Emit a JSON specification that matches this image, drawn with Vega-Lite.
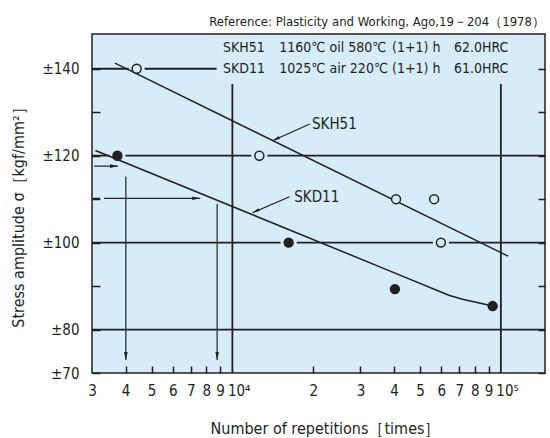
{
  "$schema": "https://vega.github.io/schema/vega-lite/v6.json",
  "width": 453,
  "height": 339,
  "autosize": {"type": "none"},
  "padding": {"left": 92, "top": 34, "right": 5, "bottom": 65},
  "background": "white",
  "title": {
    "text": "Reference: Plasticity and Working, Ago,19－204（1978）",
    "anchor": "end",
    "frame": "group",
    "fontSize": 13,
    "fontWeight": "normal",
    "color": "#231f20",
    "baseline": "alphabetic",
    "offset": 9,
    "dy": 14
  },
  "config": {
    "font": "Liberation Sans Narrow, DejaVu Sans Condensed, sans-serif",
    "view": {"fill": "#d7ecf9", "stroke": "#231f20", "strokeWidth": 1.5},
    "axis": {
      "domain": false,
      "grid": false,
      "tickColor": "#231f20",
      "tickWidth": 1.5,
      "labelColor": "#231f20",
      "titleColor": "#231f20",
      "labelFontSize": 15,
      "titleFontSize": 16,
      "titleFontWeight": "normal"
    }
  },
  "datasets": {
    "pts": [
      {"steel": "SKH51", "n": 4400, "s": 140},
      {"steel": "SKH51", "n": 12600, "s": 120},
      {"steel": "SKH51", "n": 40700, "s": 110},
      {"steel": "SKH51", "n": 56400, "s": 110},
      {"steel": "SKH51", "n": 59800, "s": 100},
      {"steel": "SKD11", "n": 3730, "s": 120},
      {"steel": "SKD11", "n": 16200, "s": 100},
      {"steel": "SKD11", "n": 40300, "s": 89.3},
      {"steel": "SKD11", "n": 93200, "s": 85.4}
    ],
    "curves": [
      {"steel": "SKH51", "n": 3654, "s": 141.3},
      {"steel": "SKH51", "n": 106400, "s": 96.9},
      {"steel": "SKD11", "n": 3088, "s": 121.2},
      {"steel": "SKD11", "n": 36160, "s": 94.2},
      {"steel": "SKD11", "n": 64000, "s": 87.9},
      {"steel": "SKD11", "n": 72000, "s": 86.95},
      {"steel": "SKD11", "n": 93200, "s": 85.4}
    ],
    "hrules": [{"s": 120}, {"s": 100}, {"s": 80}],
    "prule": [{"n": 3000, "n2": 8730, "s": 140}],
    "vrules": [
      {"n": 10000, "s": 136.5, "s2": 70},
      {"n": 100000, "s": 136.5, "s2": 70}
    ],
    "arrows": [
      {"id": "a1", "n": 3052, "s": 117.6, "n2": 3750, "s2": 117.6},
      {"id": "a2", "n": 4011, "s": 115.2, "n2": 4011, "s2": 73.0},
      {"id": "a3", "n": 3026, "s": 110.2, "n2": 7591, "s2": 110.2},
      {"id": "a4", "n": 8775, "s": 108.9, "n2": 8775, "s2": 73.0},
      {"id": "skh", "n": 19420, "s": 127.3, "n2": 14160, "s2": 123.5},
      {"id": "skd", "n": 16320, "s": 110.56, "n2": 11900, "s2": 106.9}
    ],
    "header": [
      {"t": "SKH51", "n": 9225, "s": 144.7},
      {"t": "1160℃ oil 580℃", "n": 14950, "s": 144.7},
      {"t": "(1+1)  h", "n": 39300, "s": 144.7},
      {"t": "62.0HRC", "n": 66880, "s": 144.7},
      {"t": "SKD11", "n": 9225, "s": 139.9},
      {"t": "1025℃ air 220℃", "n": 14950, "s": 139.9},
      {"t": "(1+1)  h", "n": 39300, "s": 139.9},
      {"t": "61.0HRC", "n": 66880, "s": 139.9}
    ],
    "labels": [
      {"t": "SKH51", "n": 19790, "s": 127.2},
      {"t": "SKD11", "n": 17000, "s": 110.56}
    ]
  },
  "layer": [
    {
      "data": {"name": "hrules"},
      "mark": {"type": "rule", "color": "#231f20", "strokeWidth": 1.8},
      "encoding": {
        "y": {
          "field": "s", "type": "quantitative",
          "scale": {"domain": [70, 148], "nice": false, "zero": false},
          "axis": {
            "orient": "right", "labels": false, "title": null,
            "values": [70, 80, 90, 100, 110, 120, 130, 140],
            "tickSize": -7,
            "zindex": 1
          }
        }
      }
    },
    {
      "data": {"name": "prule"},
      "mark": {"type": "rule", "color": "#231f20", "strokeWidth": 1.8},
      "encoding": {
        "x": {"field": "n", "type": "quantitative", "scale": {"type": "log", "domain": [3000, 146000], "nice": false}, "axis": null},
        "x2": {"field": "n2"},
        "y": {
          "field": "s", "type": "quantitative",
          "scale": {"domain": [70, 148], "nice": false, "zero": false},
          "axis": {
            "orient": "left", "labels": false, "title": null,
            "values": [70, 80, 90, 100, 110, 120, 130, 140],
            "tickSize": -8,
            "zindex": 1
          }
        }
      }
    },
    {
      "data": {"name": "vrules"},
      "mark": {"type": "rule", "color": "#231f20", "strokeWidth": 1.8},
      "encoding": {
        "x": {
          "field": "n", "type": "quantitative",
          "scale": {"type": "log", "domain": [3000, 146000], "nice": false},
          "axis": {
            "orient": "bottom", "labels": false, "title": null,
            "values": [4000, 5000, 6000, 7000, 8000, 9000, 20000, 30000, 40000, 50000, 60000, 70000, 80000, 90000],
            "tickSize": -7,
            "zindex": 1
          }
        },
        "y": {"field": "s", "type": "quantitative", "scale": {"domain": [70, 148], "nice": false, "zero": false}, "axis": null},
        "y2": {"field": "s2"}
      }
    },
    {
      "data": {"name": "pts"},
      "transform": [{"filter": {"field": "s", "oneOf": [140, 120, 100]}}],
      "mark": {"type": "point", "shape": "circle", "filled": true, "size": 260, "color": "#d7ecf9", "opacity": 1},
      "encoding": {
        "x": {"field": "n", "type": "quantitative", "scale": {"type": "log", "domain": [3000, 146000], "nice": false}, "axis": null},
        "y": {"field": "s", "type": "quantitative", "scale": {"domain": [70, 148], "nice": false, "zero": false}, "axis": null}
      }
    },
    {
      "data": {"name": "curves"},
      "mark": {"type": "line", "color": "#231f20", "strokeWidth": 1.5},
      "encoding": {
        "x": {"field": "n", "type": "quantitative", "scale": {"type": "log", "domain": [3000, 146000], "nice": false}, "axis": null},
        "y": {"field": "s", "type": "quantitative", "scale": {"domain": [70, 148], "nice": false, "zero": false}, "axis": null},
        "detail": {"field": "steel"}
      }
    },
    {
      "data": {"name": "arrows"},
      "transform": [{"filter": {"field": "id", "oneOf": ["a1", "a2", "a4", "skh", "skd"]}}],
      "mark": {"type": "rule", "color": "#231f20", "strokeWidth": 1.2},
      "encoding": {
        "x": {"field": "n", "type": "quantitative", "scale": {"type": "log", "domain": [3000, 146000], "nice": false}, "axis": null},
        "x2": {"field": "n2"},
        "y": {"field": "s", "type": "quantitative", "scale": {"domain": [70, 148], "nice": false, "zero": false}, "axis": null},
        "y2": {"field": "s2"}
      }
    },
    {
      "data": {"name": "arrows"},
      "transform": [{"filter": {"field": "id", "equal": "a3"}}],
      "mark": {"type": "rule", "color": "#231f20", "strokeWidth": 1.2, "strokeDash": [7, 4, 300]},
      "encoding": {
        "x": {"field": "n", "type": "quantitative", "scale": {"type": "log", "domain": [3000, 146000], "nice": false}, "axis": null},
        "x2": {"field": "n2"},
        "y": {"field": "s", "type": "quantitative", "scale": {"domain": [70, 148], "nice": false, "zero": false}, "axis": null},
        "y2": {"field": "s2"}
      }
    },
    {
      "data": {"name": "arrows"},
      "transform": [{"filter": {"field": "id", "oneOf": ["a1", "a3"]}}],
      "mark": {"type": "point", "shape": "M0,0L0.45,2L-0.45,2Z", "size": 64, "angle": 90, "filled": true, "color": "#231f20", "opacity": 1},
      "encoding": {
        "x": {"field": "n2", "type": "quantitative", "scale": {"type": "log", "domain": [3000, 146000], "nice": false}, "axis": null},
        "y": {"field": "s2", "type": "quantitative", "scale": {"domain": [70, 148], "nice": false, "zero": false}, "axis": null}
      }
    },
    {
      "data": {"name": "arrows"},
      "transform": [{"filter": {"field": "id", "oneOf": ["a2", "a4"]}}],
      "mark": {"type": "point", "shape": "M0,0L0.45,2L-0.45,2Z", "size": 64, "angle": 180, "filled": true, "color": "#231f20", "opacity": 1},
      "encoding": {
        "x": {"field": "n2", "type": "quantitative", "scale": {"type": "log", "domain": [3000, 146000], "nice": false}, "axis": null},
        "y": {"field": "s2", "type": "quantitative", "scale": {"domain": [70, 148], "nice": false, "zero": false}, "axis": null}
      }
    },
    {
      "data": {"name": "arrows"},
      "transform": [{"filter": {"field": "id", "oneOf": ["skh", "skd"]}}],
      "mark": {"type": "point", "shape": "M0,0L0.45,2L-0.45,2Z", "size": 49, "angle": 245, "filled": true, "color": "#231f20", "opacity": 1},
      "encoding": {
        "x": {"field": "n2", "type": "quantitative", "scale": {"type": "log", "domain": [3000, 146000], "nice": false}, "axis": null},
        "y": {"field": "s2", "type": "quantitative", "scale": {"domain": [70, 148], "nice": false, "zero": false}, "axis": null}
      }
    },
    {
      "data": {"name": "header"},
      "mark": {"type": "text", "align": "left", "baseline": "middle", "fontSize": 14, "color": "#231f20"},
      "encoding": {
        "x": {"field": "n", "type": "quantitative", "scale": {"type": "log", "domain": [3000, 146000], "nice": false}, "axis": null},
        "y": {"field": "s", "type": "quantitative", "scale": {"domain": [70, 148], "nice": false, "zero": false}, "axis": null},
        "text": {"field": "t"}
      }
    },
    {
      "data": {"name": "labels"},
      "mark": {"type": "text", "align": "left", "baseline": "middle", "fontSize": 15, "color": "#231f20"},
      "encoding": {
        "x": {"field": "n", "type": "quantitative", "scale": {"type": "log", "domain": [3000, 146000], "nice": false}, "axis": null},
        "y": {"field": "s", "type": "quantitative", "scale": {"domain": [70, 148], "nice": false, "zero": false}, "axis": null},
        "text": {"field": "t"}
      }
    },
    {
      "data": {"name": "pts"},
      "mark": {"type": "point", "shape": "circle", "filled": true, "size": 80, "stroke": "#231f20", "strokeWidth": 1.5, "opacity": 1},
      "encoding": {
        "x": {
          "field": "n", "type": "quantitative",
          "scale": {"type": "log", "domain": [3000, 146000], "nice": false},
          "axis": {
            "orient": "bottom",
            "title": "Number of repetitions［times］",
            "values": [3000, 4000, 5000, 6000, 7000, 8000, 9000, 10000, 20000, 30000, 40000, 50000, 60000, 70000, 80000, 90000, 100000],
            "labelExpr": "datum.value == 10000 ? '10⁴' : datum.value == 100000 ? '10⁵' : datum.value < 10000 ? format(round(datum.value / 1000), 'd') : format(round(datum.value / 10000), 'd')",
            "ticks": false,
            "labelPadding": 17,
            "labelBaseline": "middle",
            "labelAlign": {"condition": {"test": "datum.value == 10000 || datum.value == 100000", "value": "left"}, "value": "center"},
            "labelOffset": {"condition": {"test": "datum.value == 10000 || datum.value == 100000", "value": -5}, "value": 0},
            "labelFlush": false,
            "labelOverlap": false,
            "titleX": 233,
            "titleY": 55,
            "titleBaseline": "middle"
          }
        },
        "y": {
          "field": "s", "type": "quantitative",
          "scale": {"domain": [70, 148], "nice": false, "zero": false},
          "axis": {
            "orient": "left",
            "title": "Stress amplitude σ［kgf/mm²］",
            "values": [70, 80, 100, 120, 140],
            "labelExpr": "'±' + datum.value",
            "ticks": false,
            "labelPadding": 13,
            "labelOverlap": false,
            "labelFlush": false,
            "titleX": -74,
            "titleY": 179,
            "titleBaseline": "middle",
            "titleAlign": "center"
          }
        },
        "fill": {
          "field": "steel", "type": "nominal",
          "scale": {"domain": ["SKH51", "SKD11"], "range": ["#d7ecf9", "#231f20"]},
          "legend": null
        }
      }
    }
  ],
  "resolve": {"axis": {"x": "independent", "y": "independent"}}
}
